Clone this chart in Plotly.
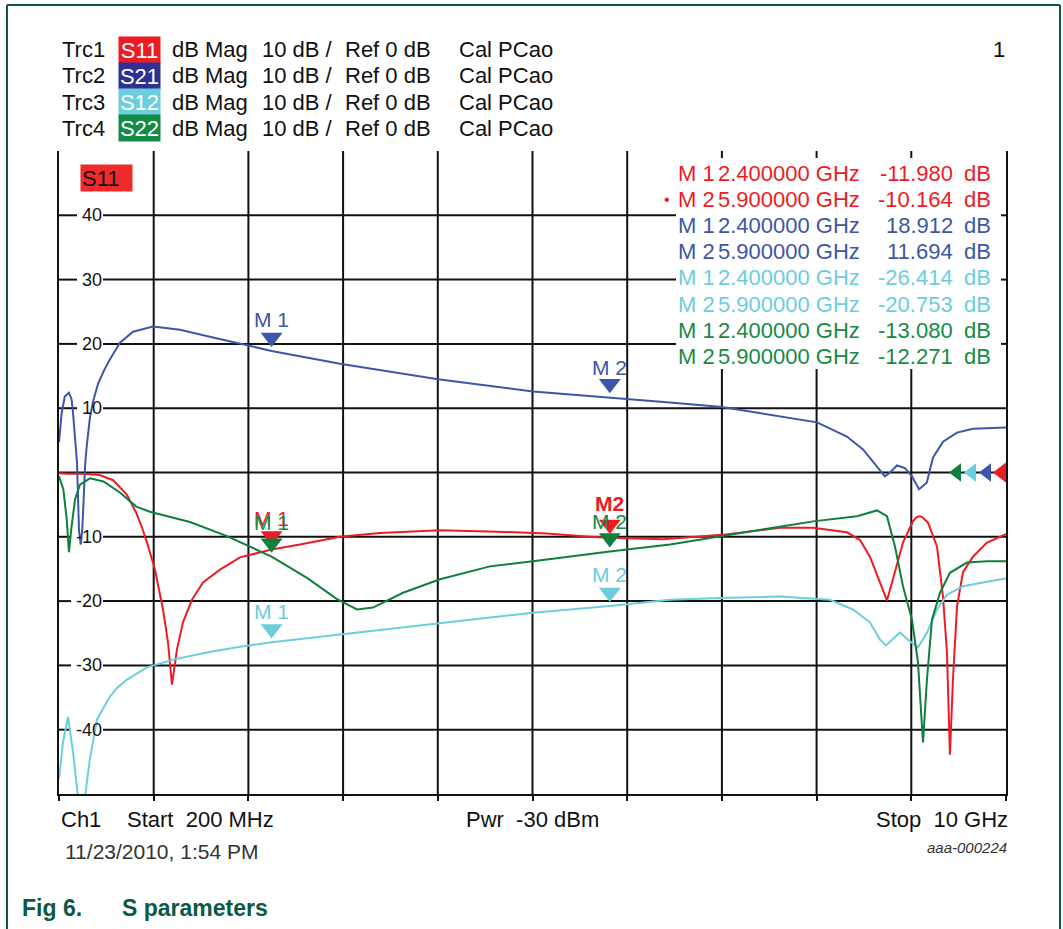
import plotly.graph_objects as go

# ---------------- data (GHz, dB) ----------------
S11_POINTS = [(0.2, -0.1), (0.3, -0.2), (0.45, -0.2), (0.62, -0.4), (0.76, -1.2), (0.9, -3.4),
              (1.0, -6.3), (1.06, -8.6), (1.111, -10.9), (1.193, -15.1), (1.276, -21.3),
              (1.328, -26.4), (1.369, -33.0), (1.421, -27.5), (1.483, -23.3), (1.576, -19.8),
              (1.69, -17.1), (1.866, -15.1), (2.073, -13.2), (2.4, -11.98), (2.694, -11.2),
              (3.108, -10.0), (3.522, -9.4), (4.143, -9.0), (4.733, -9.2), (5.25, -9.5),
              (5.695, -10.0), (5.9, -10.164), (6.45, -10.4), (7.06, -9.7), (7.661, -8.6),
              (8.003, -8.6), (8.354, -9.3), (8.489, -10.5), (8.592, -13.1), (8.696, -17.1),
              (8.768, -19.9), (8.83, -16.6), (8.934, -10.9), (9.037, -7.6), (9.07, -7.0),
              (9.1, -6.8), (9.13, -6.9), (9.193, -7.8), (9.286, -11.5), (9.348, -19.3),
              (9.389, -28.0), (9.42, -43.9), (9.451, -32.2), (9.493, -20.8), (9.555, -15.5),
              (9.658, -13.1), (9.803, -10.9), (10.0, -9.6)]
S21_POINTS = [(0.2, 4.7), (0.228, 9.3), (0.26, 11.8), (0.303, 12.4), (0.33, 11.4), (0.345, 9.3),
              (0.386, 1.6), (0.407, -9.0), (0.425, -11.2), (0.44, -9.0), (0.452, -5.3),
              (0.469, 0.9), (0.486, 4.0), (0.52, 8.5), (0.552, 11.0), (0.604, 13.8),
              (0.67, 16.0), (0.728, 17.6), (0.831, 20.2), (0.966, 21.9), (1.173, 22.7),
              (1.452, 22.2), (1.794, 21.0), (2.145, 19.75), (2.4, 18.912), (3.108, 16.9),
              (4.122, 14.5), (5.105, 12.6), (5.9, 11.694), (6.523, 10.9), (7.061, 10.2),
              (7.661, 8.7), (8.044, 7.8), (8.354, 5.6), (8.52, 3.6), (8.665, 0.9), (8.747, -0.6),
              (8.8, 0.0), (8.872, 1.1), (8.954, 0.7), (9.027, -0.6), (9.1, -2.6), (9.18, -1.6),
              (9.244, 2.3), (9.348, 4.8), (9.493, 6.2), (9.658, 6.8), (10.0, 7.0)]
S12_POINTS = [(0.2, -47.7), (0.241, -42.0), (0.293, -38.0), (0.345, -43.5), (0.397, -50.5),
              (0.43, -55.0), (0.469, -50.5), (0.52, -44.5), (0.593, -38.4), (0.72, -35.0),
              (0.8, -33.5), (0.904, -32.2), (1.111, -30.3), (1.38, -29.1), (1.731, -28.0),
              (2.073, -27.1), (2.4, -26.414), (3.108, -25.2), (4.143, -23.4), (5.105, -21.8),
              (5.9, -20.753), (6.523, -19.8), (7.04, -19.5), (7.661, -19.3), (8.178, -19.8),
              (8.416, -21.3), (8.592, -23.3), (8.696, -26.0), (8.758, -26.9), (8.903, -24.9),
              (8.986, -26.0), (9.089, -27.2), (9.182, -24.9), (9.286, -21.3), (9.389, -19.0),
              (9.555, -17.7), (9.803, -17.0), (10.0, -16.5)]
S22_POINTS = [(0.2, -0.6), (0.245, -2.6), (0.28, -7.3), (0.303, -12.4), (0.33, -8.4),
              (0.366, -4.2), (0.417, -1.9), (0.52, -0.9), (0.66, -1.4), (0.83, -3.1),
              (1.0, -5.3), (1.14, -6.1), (1.556, -7.7), (1.938, -9.9), (2.4, -13.08),
              (2.766, -16.4), (3.077, -19.7), (3.284, -21.3), (3.449, -21.0), (3.76, -18.7),
              (4.143, -16.6), (4.66, -14.6), (5.105, -13.8), (5.9, -12.271), (6.523, -11.2),
              (7.661, -8.4), (8.003, -7.6), (8.458, -6.8), (8.665, -5.9), (8.768, -6.8),
              (8.851, -11.5), (8.934, -17.7), (9.027, -22.9), (9.089, -29.5), (9.141, -42.0),
              (9.182, -32.2), (9.234, -22.9), (9.317, -18.7), (9.42, -15.6), (9.596, -14.0),
              (9.803, -13.8), (10.0, -13.8)]

TRACE_NAMES = ["S11", "S21", "S12", "S22"]
MARKER_FREQS = [2.4, 5.9]
MARKER_VALUES = {"S11": [-11.980, -10.164], "S21": [18.912, 11.694],
                 "S12": [-26.414, -20.753], "S22": [-13.080, -12.271]}
Y_TICKS = [40, 30, 20, 10, -10, -20, -30, -40]
F_START, F_STOP = 0.2, 10.0
DB_MIN, DB_MAX = -50, 50
REF_LEVEL = 0

# ---------------- style ----------------
W, H = 1063, 929
ML, MR, MT, MB = 59, 57, 151, 135
PW, PH = W - ML - MR, H - MT - MB
FONT = "Liberation Sans, Arial, Helvetica, sans-serif"
COL = {"S11": "#ed1c24", "S21": "#3c56a8", "S12": "#6ccddf", "S22": "#0f7f3d"}
BOX = {"S11": "#ed1c24", "S21": "#2e3192", "S12": "#6ccddf", "S22": "#138a45"}
TXT_COL = {"S11": "#ed1c24", "S21": "#3c56a8", "S12": "#6ccddf", "S22": "#178a45"}
FRAME = "#0b5945"
GRID = "#111111"
PX_PER_DB = PH / (DB_MAX - DB_MIN)
GHZ_PER_PX = (F_STOP - F_START) / PW
TABLE_BOX = (676, 158, 1001, 369)  # px: left, top, right, bottom


def px(xp):
    return (xp - ML) / PW


def py(yp):
    return (H - MB - yp) / PH


def fx(xp):
    return F_START + (xp - ML) * GHZ_PER_PX


def dby(yp):
    return DB_MIN + (H - MB - yp) / PX_PER_DB


def text(xp, yp, s, size=22, color="#111111", xanchor="left", **kw):
    return dict(xref="paper", yref="paper", x=px(xp), y=py(yp), text=s, showarrow=False,
                xanchor=xanchor, yanchor="middle",
                font=dict(size=size, color=color, family=FONT), **kw)


POINTS = {"S11": S11_POINTS, "S21": S21_POINTS, "S12": S12_POINTS, "S22": S22_POINTS}

fig = go.Figure()
for name in ["S11", "S21", "S12", "S22"]:
    pts = POINTS[name]
    fig.add_trace(go.Scatter(x=[p[0] for p in pts], y=[p[1] for p in pts], mode="lines",
                             line=dict(color=COL[name], width=2), hoverinfo="skip"))

# marker triangles (tip on the trace)
TRI_SIZE = 19
tri_off = (TRI_SIZE / 2) * 1.414 / PX_PER_DB
for name in ["S11", "S21", "S12", "S22"]:
    fig.add_trace(go.Scatter(x=MARKER_FREQS, y=[v + tri_off for v in MARKER_VALUES[name]],
                             mode="markers", cliponaxis=False, hoverinfo="skip",
                             marker=dict(symbol="triangle-down", size=TRI_SIZE, color=COL[name],
                                         line=dict(width=0))))

# reference level triangles at right edge
ref_order = ["S22", "S12", "S21", "S11"]
ref_px_from_right = [49, 34, 19, 4]
ref_sizes = [16, 16, 16, 18]
for name, off, sz in zip(ref_order, ref_px_from_right, ref_sizes):
    fig.add_trace(go.Scatter(x=[F_STOP - off * GHZ_PER_PX], y=[REF_LEVEL], mode="markers",
                             cliponaxis=False, hoverinfo="skip",
                             marker=dict(symbol="triangle-left", size=sz, color=COL[name],
                                         line=dict(width=0))))

annotations = []
shapes = []


def seg(x0p, y0p, x1p, y1p):
    shapes.append(dict(type="line", xref="x", yref="y", layer="below",
                       x0=fx(x0p), x1=fx(x1p), y0=dby(y0p), y1=dby(y1p),
                       line=dict(color=GRID, width=2)))


# vertical grid lines (interrupted by the readout table)
for k in range(1, 10):
    xp = ML + k * PW / 10
    if TABLE_BOX[0] <= xp <= TABLE_BOX[2]:
        seg(xp, MT, xp, TABLE_BOX[1])
        seg(xp, TABLE_BOX[3], xp, H - MB)
    else:
        seg(xp, MT, xp, H - MB)

# horizontal grid lines with tick labels (gaps behind labels / table)
LABEL_RIGHT = 103
for t in Y_TICKS + [0]:
    yp = H - MB - (t - DB_MIN) * PX_PER_DB
    start = ML
    if t != 0:
        s = str(t)
        annotations.append(text(LABEL_RIGHT + 1, yp, s, size=18, xanchor="right"))
        wtxt = sum(6.0 if ch == "-" else 10.0 for ch in s)
        seg(ML, yp, LABEL_RIGHT - wtxt - 6, yp)
        start = LABEL_RIGHT
    if TABLE_BOX[1] <= yp <= TABLE_BOX[3]:
        seg(start, yp, TABLE_BOX[0], yp)
        seg(TABLE_BOX[2], yp, W - MR, yp)
    else:
        seg(start, yp, W - MR, yp)

# marker labels
label_shift = {("S11", 0): 31, ("S11", 1): 34, ("S21", 0): 31, ("S21", 1): 30,
               ("S12", 0): 31, ("S12", 1): 31, ("S22", 0): 34, ("S22", 1): 30}
for name in ["S11", "S21", "S12", "S22"]:
    for i, (f, v) in enumerate(zip(MARKER_FREQS, MARKER_VALUES[name])):
        lab = "M %d" % (i + 1)
        if name == "S11" and i == 1:
            lab = "<b>M2</b>"
        annotations.append(dict(x=f, y=v, xref="x", yref="y", text=lab, showarrow=False,
                                yshift=label_shift[(name, i)], xanchor="center", yanchor="middle",
                                font=dict(size=21, color=TXT_COL[name] if name != "S21" else COL[name],
                                          family=FONT)))

# marker readout table
row = 0
for name in ["S11", "S21", "S12", "S22"]:
    for i, (f, v) in enumerate(zip(MARKER_FREQS, MARKER_VALUES[name])):
        yp = 173 + 26.2 * row
        c = TXT_COL[name] if name != "S21" else COL[name]
        annotations.append(text(676, yp, "M %d" % (i + 1), color=c))
        annotations.append(text(716, yp, "%.6f GHz" % f, color=c))
        annotations.append(text(955, yp, "%.3f" % v, color=c, xanchor="right"))
        annotations.append(text(962, yp, "dB", color=c))
        if name == "S11" and i == 1:
            annotations.append(text(662, yp, "•", size=16, color=c))
        row += 1

# S11 active-trace label in plot
annotations.append(text(80, 178, "S11", color="#111111", bgcolor="#ee2a2a", width=49, height=24,
                        align="left", borderpad=1))

# header lines
for i, name in enumerate(TRACE_NAMES):
    yp = 49.5 + 26.3 * i
    annotations.append(text(60, yp, "Trc%d" % (i + 1)))
    annotations.append(text(118, yp, name, color="white", bgcolor=BOX[name], width=39, height=24,
                            align="center", borderpad=1))
    annotations.append(text(170, yp, "dB Mag"))
    annotations.append(text(260, yp, "10 dB /"))
    annotations.append(text(343, yp, "Ref 0 dB"))
    annotations.append(text(457, yp, "Cal PCao"))
annotations.append(text(1007, 50, "1", xanchor="right"))

# footer
annotations.append(text(59, 819, "Ch1"))
annotations.append(text(125, 819, "Start  200 MHz"))
annotations.append(text(464, 819, "Pwr  -30 dBm"))
annotations.append(text(1010, 819, "Stop  10 GHz", xanchor="right"))
annotations.append(text(63, 851, "11/23/2010, 1:54 PM", size=21, color="#333333"))
annotations.append(text(1009, 847, "<i>aaa-000224</i>", size=15, color="#333333", xanchor="right"))
annotations.append(text(20, 908, "<b>Fig 6.</b>", size=23, color=FRAME))
annotations.append(text(120, 908, "<b>S parameters</b>", size=23, color=FRAME))

# outer frame
for x0, y0, x1, y1 in [(7, 5, 1060, 5), (7, 5, 7, 940), (1060, 5, 1060, 940)]:
    shapes.append(dict(type="line", xref="paper", yref="paper", x0=px(x0), y0=py(y0),
                       x1=px(x1), y1=py(y1), line=dict(color=FRAME, width=2)))

step = (F_STOP - F_START) / 10
fig.update_layout(
    width=W, height=H, margin=dict(l=ML, r=MR, t=MT, b=MB, autoexpand=False),
    paper_bgcolor="white", plot_bgcolor="white", showlegend=False,
    annotations=annotations, shapes=shapes, font=dict(family=FONT),
    xaxis=dict(range=[F_START, F_STOP], tickvals=[F_START + k * step for k in range(0, 11)],
               showticklabels=False, showgrid=False, zeroline=False, showline=True,
               linecolor=GRID, linewidth=2, ticks="outside", ticklen=5, tickwidth=2,
               tickcolor=GRID, fixedrange=True),
    yaxis=dict(range=[DB_MIN, DB_MAX], showticklabels=False, showgrid=False, zeroline=False,
               ticks="", showline=True, mirror=True, linecolor=GRID, linewidth=2,
               fixedrange=True),
)

fig.write_html("out.html", config={"displayModeBar": False},
               post_script="document.body.style.margin='0px';")
